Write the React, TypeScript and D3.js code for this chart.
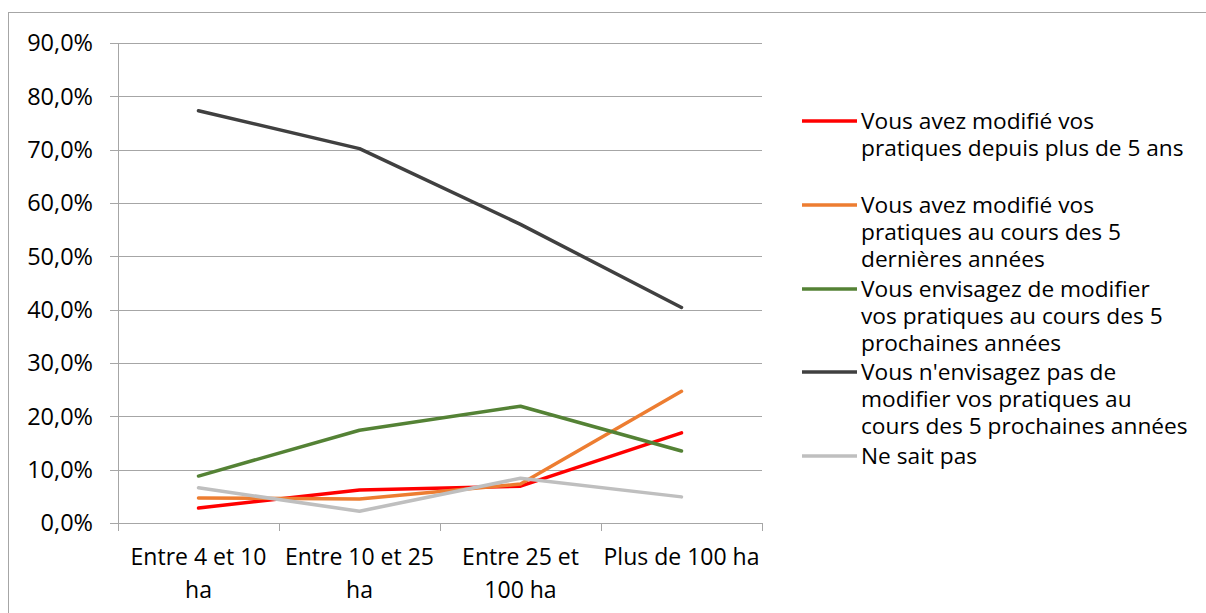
import React from "react";
import * as d3 from "d3";

const categories: string[][] = [
  ["Entre 4 et 10", "ha"],
  ["Entre 10 et 25", "ha"],
  ["Entre 25 et", "100 ha"],
  ["Plus de 100 ha"],
];
const categoryKeys = ["c1", "c2", "c3", "c4"];

const seriesNames: string[][] = [
  ["Vous avez modifié vos", "pratiques depuis plus de 5 ans"],
  ["Vous avez modifié vos", "pratiques au cours des 5", "dernières années"],
  ["Vous envisagez de modifier", "vos pratiques au cours des 5", "prochaines années"],
  ["Vous n'envisagez pas de", "modifier vos pratiques au", "cours des 5 prochaines années"],
  ["Ne sait pas"],
];
const seriesColors = ["#FF0000", "#ED7D31", "#548235", "#404040", "#BFBFBF"];

const modifiePlus5 = [2.8, 6.2, 6.9, 16.9];
const modifie5Dernieres = [4.7, 4.5, 7.3, 24.7];
const envisage = [8.8, 17.4, 21.9, 13.5];
const nEnvisagePas = [77.3, 70.2, 56.0, 40.4];
const neSaitPas = [6.6, 2.2, 8.4, 4.9];
const seriesValues = [modifiePlus5, modifie5Dernieres, envisage, nEnvisagePas, neSaitPas];

const yTicks = [0, 10, 20, 30, 40, 50, 60, 70, 80, 90];

const W = 1206;
const H = 613;
const plot = { left: 118, right: 762, top: 43, bottom: 523 };
const FONT = "'Open Sans', sans-serif";

export default function App() {
  const x = d3.scaleBand<string>().domain(categoryKeys).range([plot.left, plot.right]);
  const y = d3.scaleLinear().domain([0, 90]).range([plot.bottom, plot.top]);
  const line = d3
    .line<number>()
    .x((_, i) => (x(categoryKeys[i]) as number) + x.bandwidth() / 2)
    .y((d) => y(d));

  const legendX = 802;
  const legendY = [121, 205, 289, 372, 456];
  const lh = 27;

  return (
    <svg
      width={W}
      height={H}
      style={{ position: "absolute", left: 0, top: 0, background: "#fff" }}
    >
      <rect x={8.5} y={12.5} width={W + 10} height={H + 10} fill="#fff" stroke="#A6A6A6" strokeWidth={1} />
      {yTicks.map((t) => (
        <g key={t}>
          <line x1={plot.left - 8} x2={plot.right} y1={Math.round(y(t)) + 0.5} y2={Math.round(y(t)) + 0.5} stroke="#A6A6A6" strokeWidth={1} />
          <text x={93} y={y(t)} dy="0.36em" textAnchor="end" fontFamily={FONT} fontSize={23.5} fill="#000">
            {t.toFixed(1).replace(".", ",") + "%"}
          </text>
        </g>
      ))}
      <line x1={plot.left + 0.5} x2={plot.left + 0.5} y1={plot.top} y2={plot.bottom + 8} stroke="#A6A6A6" />
      {categoryKeys.map((k) => (
        <line key={"t" + k} x1={(x(k) as number) + x.bandwidth() + 0.5} x2={(x(k) as number) + x.bandwidth() + 0.5} y1={plot.bottom} y2={plot.bottom + 8} stroke="#A6A6A6" />
      ))}
      {categories.map((lines, i) => (
        <text key={"c" + i} textAnchor="middle" fontFamily={FONT} fontSize={23} fill="#000">
          {lines.map((l, j) => (
            <tspan key={j} x={(x(categoryKeys[i]) as number) + x.bandwidth() / 2} y={557 + j * 33} dy="0.36em">
              {l}
            </tspan>
          ))}
        </text>
      ))}
      {seriesValues.map((vals, i) => (
        <path key={"s" + i} d={line(vals) as string} fill="none" stroke={seriesColors[i]} strokeWidth={3.5} strokeLinejoin="round" strokeLinecap="round" />
      ))}
      {seriesNames.map((lines, i) => (
        <g key={"l" + i}>
          <line x1={legendX} x2={legendX + 55} y1={legendY[i]} y2={legendY[i]} stroke={seriesColors[i]} strokeWidth={3.5} />
          <text fontFamily={FONT} fontSize={22.7} fill="#000">
            {lines.map((l, j) => (
              <tspan key={j} x={legendX + 59} y={legendY[i] + j * lh} dy="0.36em">
                {l}
              </tspan>
            ))}
          </text>
        </g>
      ))}
    </svg>
  );
}
